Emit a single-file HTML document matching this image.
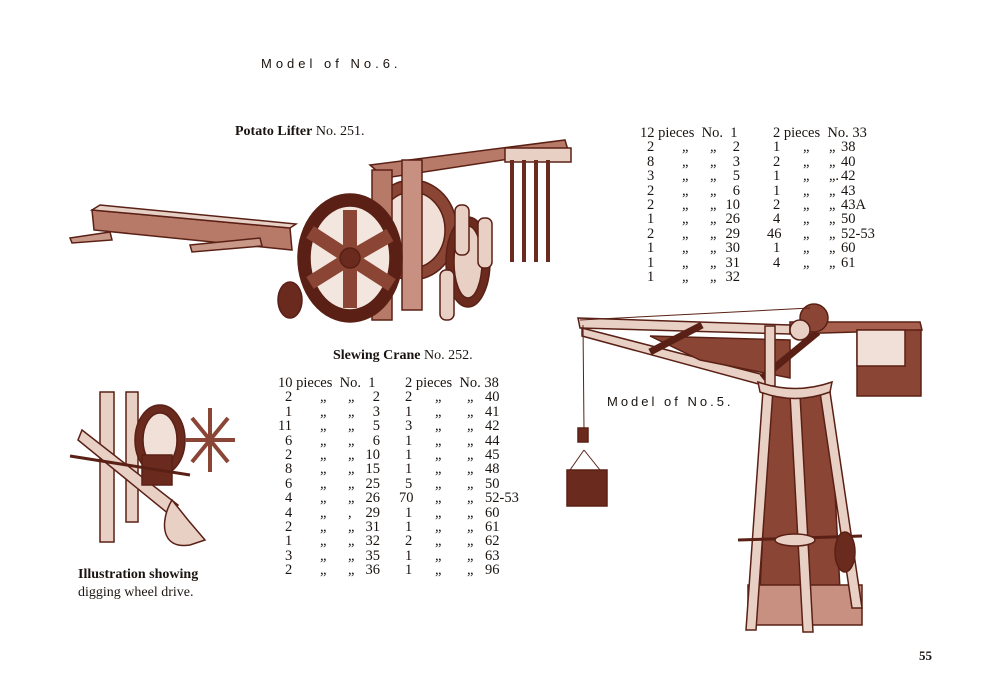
<!DOCTYPE html>
<html><head><meta charset="utf-8"><style>
body{margin:0;width:1000px;height:700px;background:#fff;position:relative;overflow:hidden;font-family:"Liberation Serif",serif;color:#1a1410}
.t{position:absolute;white-space:nowrap}
.h{font-family:"Liberation Sans",sans-serif;font-size:13px;letter-spacing:3px}
.r{position:absolute;font-size:14.5px;line-height:14.4px;white-space:nowrap}
.r div{height:14.4px;position:relative}
.r span{position:absolute}
b{font-weight:bold}
</style></head><body>
<svg width="1000" height="700" style="position:absolute;left:0;top:0">
<g stroke="#5a2015" fill="#b87a68" stroke-width="1.5">
<polygon points="92,210 290,228 292,250 94,230" />
<polygon points="92,210 100,205 296,224 290,228" fill="#e6cfc4"/>
<path d="M70,238 L110,232 L112,240 L72,243 Z" fill="#c89888"/>
<path d="M190,245 L260,238 L262,246 L192,252 Z" fill="#c89888"/>
<polygon points="370,165 565,140 568,150 385,178" fill="#b87a68"/>
<ellipse cx="412" cy="230" rx="45" ry="50" fill="#8a4535"/>
<ellipse cx="412" cy="230" rx="33" ry="38" fill="#f0e0d8"/>
<rect x="372" y="170" width="20" height="150" fill="#b87a68"/>
<rect x="402" y="160" width="20" height="150" fill="#c89080"/>
<ellipse cx="290" cy="300" rx="12" ry="18" fill="#6a2a1e"/>
<ellipse cx="350" cy="258" rx="52" ry="64" fill="#5a2015"/>
<ellipse cx="350" cy="258" rx="40" ry="52" fill="#f3e6df"/>
<path d="M350,258 L350,210 M350,258 L390,235 M350,258 L392,285 M350,258 L350,308 M350,258 L310,283 M350,258 L310,232" stroke="#8a4535" stroke-width="14"/>
<circle cx="350" cy="258" r="10" fill="#6a2a1e"/>
<ellipse cx="468" cy="262" rx="22" ry="45" fill="#6a2a1e"/>
<ellipse cx="468" cy="262" rx="14" ry="36" fill="#e8d0c5"/>
<rect x="455" y="205" width="14" height="50" rx="6" fill="#e8d0c5"/>
<rect x="478" y="218" width="14" height="50" rx="6" fill="#e8d0c5"/>
<rect x="440" y="270" width="14" height="50" rx="6" fill="#e8d0c5"/>
<rect x="505" y="148" width="66" height="14" fill="#e8d0c5"/>
<g fill="#6a2a1e" stroke="none"><rect x="510" y="160" width="4" height="102"/><rect x="522" y="160" width="4" height="102"/><rect x="534" y="160" width="4" height="102"/><rect x="546" y="160" width="4" height="102"/></g>
<rect x="100" y="392" width="14" height="150" fill="#e8d0c5"/>
<rect x="126" y="392" width="12" height="130" fill="#e8d0c5"/>
<path d="M82,430 L178,505 L170,515 L78,440 Z" fill="#e8d0c5"/>
<path d="M172,500 C160,520 160,550 190,545 L205,540 L188,520 Z" fill="#e8d0c5"/>
<ellipse cx="160" cy="440" rx="25" ry="35" fill="#6a2a1e"/>
<ellipse cx="160" cy="440" rx="17" ry="27" fill="#f0e0d8"/>
<path d="M210,408 L210,472 M185,440 L235,440 M192,418 L228,462 M228,418 L192,462" stroke="#8a4535" stroke-width="4"/>
<rect x="142" y="455" width="30" height="30" fill="#6a2a1e"/>
<line x1="70" y1="456" x2="190" y2="475" stroke-width="3"/>
<polygon points="578,318 790,325 790,334 580,328" fill="#e8d0c5"/>
<polygon points="582,328 768,376 766,386 582,336" fill="#e8d0c5"/>
<polygon points="650,336 790,340 790,378 700,360" fill="#8a4535"/>
<line x1="650" y1="352" x2="702" y2="325" stroke-width="7"/>
<line x1="762" y1="378" x2="818" y2="332" stroke-width="7"/>
<rect x="765" y="326" width="10" height="60" fill="#e8d0c5"/>
<polygon points="790,322 920,322 922,330 790,334" fill="#a8604e"/>
<rect x="857" y="330" width="64" height="66" fill="#8a4535"/>
<rect x="857" y="330" width="48" height="36" fill="#f0e0d8"/>
<circle cx="814" cy="318" r="14" fill="#8a4535"/>
<circle cx="800" cy="330" r="10" fill="#e8d0c5"/>
<line x1="580" y1="320" x2="810" y2="308" stroke-width="1"/>
<line x1="583" y1="325" x2="584" y2="430" stroke-width="1"/>
<rect x="578" y="428" width="10" height="14" fill="#6a2a1e"/>
<rect x="567" y="470" width="40" height="36" fill="#6a2a1e"/>
<line x1="584" y1="450" x2="570" y2="470" stroke-width="1"/><line x1="584" y1="450" x2="600" y2="470" stroke-width="1"/>
<polygon points="770,392 830,392 840,590 760,590" fill="#8a4535"/>
<polygon points="748,585 862,585 862,625 748,625" fill="#c89080"/>
<polygon points="763,390 773,390 756,630 746,630" fill="#e8d0c5"/>
<polygon points="790,395 800,395 813,632 803,632" fill="#e8d0c5"/>
<polygon points="820,392 830,392 862,608 852,608" fill="#e8d0c5"/>
<path d="M760,392 Q795,405 830,392 L832,382 Q795,395 758,382 Z" fill="#e8d0c5"/>
<line x1="738" y1="540" x2="862" y2="536" stroke-width="3"/>
<ellipse cx="845" cy="552" rx="10" ry="20" fill="#6a2a1e"/>
<ellipse cx="795" cy="540" rx="20" ry="6" fill="#e8d0c5"/>
</g>
</svg>
<div class="t h" style="left:261px;top:56px;letter-spacing:4px">Model of No.6.</div>
<div class="t h" style="left:607px;top:394px">Model of No.5.</div>
<div class="t" style="left:235px;top:124px;font-size:14px"><b>Potato Lifter</b> No. 251.</div>
<div class="t" style="left:333px;top:348px;font-size:14px"><b>Slewing Crane</b> No. 252.</div>
<div class="t" style="left:78px;top:566px;font-size:14px;line-height:18px"><b>Illustration showing</b><br>digging wheel drive.</div>
<div class="t" style="left:919px;top:648px;font-size:13px;font-weight:bold">55</div>

<div class="r" style="left:640px;top:126px;width:110px">
<div><span style="left:0">12 pieces&nbsp; No.&nbsp; 1</span></div>
<div><span style="left:7px">2</span><span style="left:42px">„</span><span style="left:70px">„</span><span style="right:10px">2</span></div>
<div><span style="left:7px">8</span><span style="left:42px">„</span><span style="left:70px">„</span><span style="right:10px">3</span></div>
<div><span style="left:7px">3</span><span style="left:42px">„</span><span style="left:70px">„</span><span style="right:10px">5</span></div>
<div><span style="left:7px">2</span><span style="left:42px">„</span><span style="left:70px">„</span><span style="right:10px">6</span></div>
<div><span style="left:7px">2</span><span style="left:42px">„</span><span style="left:70px">„</span><span style="right:10px">10</span></div>
<div><span style="left:7px">1</span><span style="left:42px">„</span><span style="left:70px">„</span><span style="right:10px">26</span></div>
<div><span style="left:7px">2</span><span style="left:42px">„</span><span style="left:70px">„</span><span style="right:10px">29</span></div>
<div><span style="left:7px">1</span><span style="left:42px">„</span><span style="left:70px">„</span><span style="right:10px">30</span></div>
<div><span style="left:7px">1</span><span style="left:42px">„</span><span style="left:70px">„</span><span style="right:10px">31</span></div>
<div><span style="left:7px">1</span><span style="left:42px">„</span><span style="left:70px">„</span><span style="right:10px">32</span></div>
</div>
<div class="r" style="left:773px;top:126px;width:130px">
<div><span style="left:0">2 pieces&nbsp; No. 33</span></div>
<div><span style="left:0">1</span><span style="left:30px">„</span><span style="left:56px">„</span><span style="left:68px">38</span></div>
<div><span style="left:0">2</span><span style="left:30px">„</span><span style="left:56px">„</span><span style="left:68px">40</span></div>
<div><span style="left:0">1</span><span style="left:30px">„</span><span style="left:56px">„.</span><span style="left:68px">42</span></div>
<div><span style="left:0">1</span><span style="left:30px">„</span><span style="left:56px">„</span><span style="left:68px">43</span></div>
<div><span style="left:0">2</span><span style="left:30px">„</span><span style="left:56px">„</span><span style="left:68px">43A</span></div>
<div><span style="left:0">4</span><span style="left:30px">„</span><span style="left:56px">„</span><span style="left:68px">50</span></div>
<div><span style="left:-6px">46</span><span style="left:30px">„</span><span style="left:56px">„</span><span style="left:68px">52-53</span></div>
<div><span style="left:0">1</span><span style="left:30px">„</span><span style="left:56px">„</span><span style="left:68px">60</span></div>
<div><span style="left:0">4</span><span style="left:30px">„</span><span style="left:56px">„</span><span style="left:68px">61</span></div>
</div>

<div class="r" style="left:278px;top:376px;width:110px">
<div><span style="left:0">10 pieces&nbsp; No.&nbsp; 1</span></div>
<div><span style="left:7px">2</span><span style="left:42px">„</span><span style="left:70px">„</span><span style="right:8px">2</span></div>
<div><span style="left:7px">1</span><span style="left:42px">„</span><span style="left:70px">„</span><span style="right:8px">3</span></div>
<div><span style="left:0">11</span><span style="left:42px">„</span><span style="left:70px">„</span><span style="right:8px">5</span></div>
<div><span style="left:7px">6</span><span style="left:42px">„</span><span style="left:70px">„</span><span style="right:8px">6</span></div>
<div><span style="left:7px">2</span><span style="left:42px">„</span><span style="left:70px">„</span><span style="right:8px">10</span></div>
<div><span style="left:7px">8</span><span style="left:42px">„</span><span style="left:70px">„</span><span style="right:8px">15</span></div>
<div><span style="left:7px">6</span><span style="left:42px">„</span><span style="left:70px">„</span><span style="right:8px">25</span></div>
<div><span style="left:7px">4</span><span style="left:42px">„</span><span style="left:70px">„</span><span style="right:8px">26</span></div>
<div><span style="left:7px">4</span><span style="left:42px">„</span><span style="left:70px">,</span><span style="right:8px">29</span></div>
<div><span style="left:7px">2</span><span style="left:42px">„</span><span style="left:70px">„</span><span style="right:8px">31</span></div>
<div><span style="left:7px">1</span><span style="left:42px">„</span><span style="left:70px">„</span><span style="right:8px">32</span></div>
<div><span style="left:7px">3</span><span style="left:42px">„</span><span style="left:70px">„</span><span style="right:8px">35</span></div>
<div><span style="left:7px">2</span><span style="left:42px">„</span><span style="left:70px">„</span><span style="right:8px">36</span></div>
</div>
<div class="r" style="left:405px;top:376px;width:130px">
<div><span style="left:0">2 pieces&nbsp; No. 38</span></div>
<div><span style="left:0">2</span><span style="left:30px">„</span><span style="left:62px">„</span><span style="left:80px">40</span></div>
<div><span style="left:0">1</span><span style="left:30px">„</span><span style="left:62px">„</span><span style="left:80px">41</span></div>
<div><span style="left:0">3</span><span style="left:30px">„</span><span style="left:62px">„</span><span style="left:80px">42</span></div>
<div><span style="left:0">1</span><span style="left:30px">„</span><span style="left:62px">„</span><span style="left:80px">44</span></div>
<div><span style="left:0">1</span><span style="left:30px">„</span><span style="left:62px">„</span><span style="left:80px">45</span></div>
<div><span style="left:0">1</span><span style="left:30px">„</span><span style="left:62px">„</span><span style="left:80px">48</span></div>
<div><span style="left:0">5</span><span style="left:30px">„</span><span style="left:62px">„</span><span style="left:80px">50</span></div>
<div><span style="left:-6px">70</span><span style="left:30px">„</span><span style="left:62px">„</span><span style="left:80px">52-53</span></div>
<div><span style="left:0">1</span><span style="left:30px">„</span><span style="left:62px">„</span><span style="left:80px">60</span></div>
<div><span style="left:0">1</span><span style="left:30px">„</span><span style="left:62px">„</span><span style="left:80px">61</span></div>
<div><span style="left:0">2</span><span style="left:30px">„</span><span style="left:62px">„</span><span style="left:80px">62</span></div>
<div><span style="left:0">1</span><span style="left:30px">„</span><span style="left:62px">„</span><span style="left:80px">63</span></div>
<div><span style="left:0">1</span><span style="left:30px">„</span><span style="left:62px">„</span><span style="left:80px">96</span></div>
</div>
</body></html>
